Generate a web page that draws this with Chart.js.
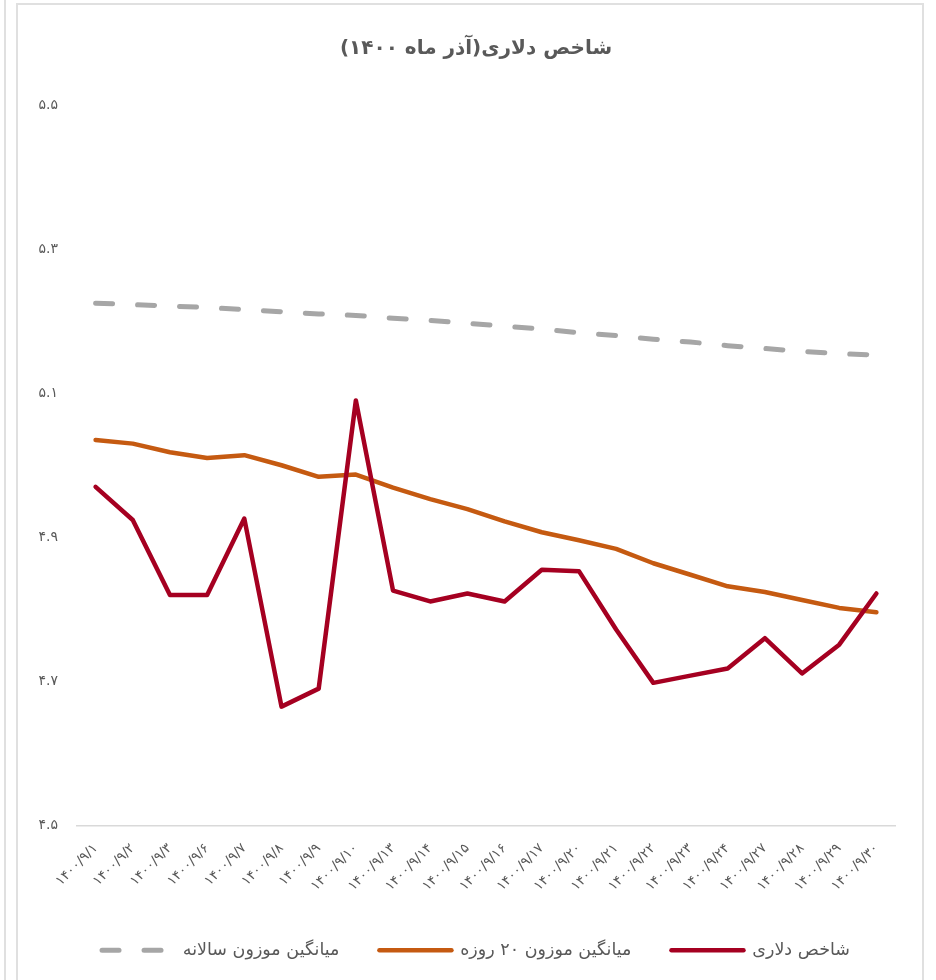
<!DOCTYPE html>
<html>
<head>
<meta charset="utf-8">
<script src="https://cdn.jsdelivr.net/npm/chart.js@4.4.1/dist/chart.umd.min.js"></script>
<style>
    html, body { margin: 0; padding: 0; background: #fff; overflow: hidden; }
    #edge { position: absolute; left: 4px; top: 0; width: 2px; height: 980px; background: #e0e0e0; }
    #frame { position: absolute; left: 16px; top: 3px; width: 904px; height: 1000px; border: 2px solid #e0e0e0; }
    #chart { display: block; }
</style>
</head>
<body>
<div id="edge"></div>
<div id="frame"><canvas id="chart" width="904" height="1000"></canvas></div>
<script>
const labels = [
    "۱۴۰۰/۹/۱", "۱۴۰۰/۹/۲", "۱۴۰۰/۹/۳", "۱۴۰۰/۹/۶", "۱۴۰۰/۹/۷", "۱۴۰۰/۹/۸",
    "۱۴۰۰/۹/۹", "۱۴۰۰/۹/۱۰", "۱۴۰۰/۹/۱۳", "۱۴۰۰/۹/۱۴", "۱۴۰۰/۹/۱۵", "۱۴۰۰/۹/۱۶",
    "۱۴۰۰/۹/۱۷", "۱۴۰۰/۹/۲۰", "۱۴۰۰/۹/۲۱", "۱۴۰۰/۹/۲۲", "۱۴۰۰/۹/۲۳", "۱۴۰۰/۹/۲۴",
    "۱۴۰۰/۹/۲۷", "۱۴۰۰/۹/۲۸", "۱۴۰۰/۹/۲۹", "۱۴۰۰/۹/۳۰"
];

// شاخص دلاری
const dollarIndex = [
    4.970, 4.924, 4.820, 4.820, 4.926, 4.665, 4.690, 5.090, 4.826, 4.811, 4.822,
    4.811, 4.855, 4.853, 4.772, 4.698, 4.708, 4.718, 4.760, 4.711, 4.751, 4.822
];

// میانگین موزون ۲۰ روزه
const avg20 = [
    5.035, 5.030, 5.018, 5.010, 5.014, 5.000, 4.984, 4.987, 4.969, 4.953, 4.939,
    4.922, 4.907, 4.896, 4.884, 4.864, 4.848, 4.832, 4.824, 4.813, 4.802, 4.796
];

// میانگین موزون سالانه
const avgYear = [
    5.225, 5.223, 5.221, 5.219, 5.216, 5.213, 5.210, 5.208, 5.204, 5.201, 5.197,
    5.193, 5.189, 5.184, 5.180, 5.175, 5.171, 5.166, 5.162, 5.158, 5.155, 5.153
];

const seriesNames = ["شاخص دلاری", "میانگین موزون ۲۰ روزه", "میانگین موزون سالانه"];
const chartTitle = "شاخص دلاری(آذر ماه ۱۴۰۰)";

const yMin = 4.5;
const yMax = 5.5;
const yStep = 0.2;

const textColor = "#595959";
const fontFamily = "'DejaVu Sans', sans-serif";

function toFa(str) {
    return String(str).replace(/[0-9]/g, d => "۰۱۲۳۴۵۶۷۸۹"[d]);
}

// legend samples should look like the lines (dash, cap, width)
function legendLabels(chart) {
    const items = Chart.defaults.plugins.legend.labels.generateLabels(chart);
    items.forEach(it => {
        const ds = chart.data.datasets[it.datasetIndex];
        it.lineDash = ds.borderDash || [];
        it.lineCap = ds.borderCapStyle || "butt";
        it.lineWidth = ds.borderWidth;
    });
    return items;
}

new Chart(document.getElementById("chart"), {
    type: "line",
    data: {
        labels,
        datasets: [
            {
                label: seriesNames[0],
                data: dollarIndex,
                borderColor: "#a50021",
                backgroundColor: "#a50021",
                borderWidth: 4.5,
                borderCapStyle: "round",
                borderJoinStyle: "round",
                pointRadius: 0,
                tension: 0
            },
            {
                label: seriesNames[1],
                data: avg20,
                borderColor: "#c55a11",
                backgroundColor: "#c55a11",
                borderWidth: 4.5,
                borderCapStyle: "round",
                borderJoinStyle: "round",
                pointRadius: 0,
                tension: 0
            },
            {
                label: seriesNames[2],
                data: avgYear,
                borderColor: "#a6a6a6",
                backgroundColor: "#a6a6a6",
                borderWidth: 5,
                borderDash: [17, 25],
                borderCapStyle: "round",
                pointRadius: 0,
                tension: 0
            }
        ]
    },
    options: {
        responsive: false,
        animation: false,
        layout: { padding: { left: 12, right: 0, top: 0, bottom: 36 } },
        plugins: {
            title: {
                display: true,
                // RLM keeps the closing bracket inside the rtl run
                text: chartTitle + "\u200F",
                color: textColor,
                font: { family: fontFamily, size: 20, weight: "bold" },
                padding: { top: 32, bottom: 44 }
            },
            legend: {
                position: "bottom",
                reverse: true,
                labels: {
                    usePointStyle: true,
                    pointStyle: "line",
                    pointStyleWidth: 72,
                    padding: 40,
                    color: textColor,
                    font: { family: fontFamily, size: 17.5 },
                    generateLabels: legendLabels
                }
            },
            tooltip: { enabled: false }
        },
        scales: {
            x: {
                offset: true,
                grid: { display: false, drawTicks: false },
                border: { display: true, color: "#d9d9d9", width: 1.5 },
                ticks: {
                    color: textColor,
                    font: { family: fontFamily, size: 13.5 },
                    minRotation: 45,
                    maxRotation: 45,
                    autoSkip: false,
                    padding: 15
                },
                afterFit: s => { s.height = 76; }
            },
            y: {
                min: yMin,
                max: yMax,
                grid: { display: false, drawTicks: false },
                border: { display: false },
                ticks: {
                    stepSize: yStep,
                    padding: 19,
                    color: textColor,
                    font: { family: fontFamily, size: 14 },
                    callback: v => toFa(Number(v).toFixed(1))
                },
                afterFit: s => { s.width = 47; }
            },
            // empty right margin of the plot
            pad: {
                type: "linear",
                position: "right",
                grid: { display: false, drawTicks: false },
                border: { display: false },
                ticks: { display: false },
                afterFit: s => { s.width = 27; }
            }
        }
    }
});
</script>
</body>
</html>
